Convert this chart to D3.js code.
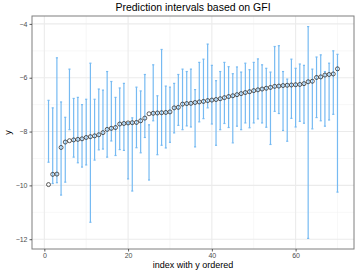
<!DOCTYPE html>
<html>
<head>
<meta charset="utf-8">
<script src="https://cdn.jsdelivr.net/npm/d3@7"></script>
<style>
  html, body { margin: 0; padding: 0; background: #fff; }
  svg { display: block; }
  text { font-family: "Liberation Sans", Arial, sans-serif; }
</style>
</head>
<body>
<svg id="chart" width="358" height="275"></svg>
<script>
const index = [1,2,3,4,5,6,7,8,9,10,11,12,13,14,15,16,17,18,19,20,
  21,22,23,24,25,26,27,28,29,30,31,32,33,34,35,36,37,38,39,40,
  41,42,43,44,45,46,47,48,49,50,51,52,53,54,55,56,57,58,59,60,
  61,62,63,64,65,66,67,68,69,70];
const yObs = [-9.97,-9.59,-9.58,-8.59,-8.39,-8.34,-8.31,-8.29,-8.27,-8.22,
  -8.19,-8.16,-8.12,-8.04,-7.92,-7.88,-7.85,-7.72,-7.70,-7.68,
  -7.67,-7.66,-7.60,-7.50,-7.34,-7.32,-7.31,-7.30,-7.29,-7.27,
  -7.12,-7.10,-6.98,-6.96,-6.95,-6.92,-6.90,-6.88,-6.85,-6.83,
  -6.81,-6.78,-6.74,-6.70,-6.67,-6.63,-6.59,-6.55,-6.52,-6.48,
  -6.45,-6.42,-6.39,-6.36,-6.32,-6.31,-6.29,-6.28,-6.27,-6.26,
  -6.25,-6.22,-6.15,-6.13,-5.99,-5.97,-5.90,-5.88,-5.86,-5.67];
const lower = [-9.14,-9.93,-9.90,-10.36,-9.88,-7.93,-8.95,-9.16,-9.32,-9.24,
  -11.37,-9.06,-8.68,-8.65,-8.95,-8.35,-8.89,-8.67,-8.70,-9.76,
  -10.21,-8.60,-8.79,-8.22,-9.80,-7.60,-8.86,-8.51,-8.61,-8.40,
  -8.05,-7.77,-7.93,-7.79,-7.83,-8.57,-7.64,-7.52,-7.12,-7.72,
  -8.51,-7.93,-7.70,-7.85,-8.42,-7.80,-7.93,-7.68,-7.86,-7.68,
  -7.53,-7.68,-7.84,-8.48,-7.25,-7.33,-7.96,-8.36,-7.51,-7.83,
  -7.62,-7.69,-11.97,-7.90,-7.48,-7.60,-7.80,-7.57,-7.36,-10.25];
const upper = [-6.84,-7.12,-5.26,-6.90,-7.47,-5.68,-6.77,-6.73,-7.00,-6.80,
  -5.46,-6.80,-6.42,-6.46,-5.77,-6.14,-6.73,-6.38,-6.21,-7.67,
  -7.49,-6.35,-6.49,-5.88,-7.75,-5.52,-6.67,-4.95,-6.31,-6.35,
  -6.21,-5.88,-5.68,-5.77,-5.68,-6.44,-5.43,-5.31,-4.75,-5.54,
  -6.11,-5.77,-5.43,-5.59,-5.85,-5.60,-5.79,-5.46,-5.70,-5.43,
  -5.30,-5.52,-5.65,-5.79,-4.84,-4.81,-5.77,-6.05,-5.31,-5.65,
  -5.49,-5.54,-4.10,-5.68,-5.23,-5.15,-5.77,-5.46,-5.00,-5.13];
const xTicks = [0, 20, 40, 60];
const xMinor = [10, 30, 50, 70];
const yTicks = [-12, -10, -8, -6, -4];
const yMinor = [-11, -9, -7, -5];
const title = "Prediction intervals based on GFI";
const xTitle = "index with y ordered";
const yTitle = "y";

const svg = d3.select("#chart");
const W = 358, H = 275;
const m = { left: 32, right: 4, top: 16, bottom: 26 };
const pw = W - m.left - m.right, ph = H - m.top - m.bottom;

const half = 0.45;
const xlo = d3.min(index) - half, xhi = d3.max(index) + half;
const xpad = (xhi - xlo) * 0.05;
const x = d3.scaleLinear().domain([xlo - xpad, xhi + xpad]).range([m.left, m.left + pw]);
const ylo = Math.min(d3.min(lower), d3.min(yObs)), yhi = Math.max(d3.max(upper), d3.max(yObs));
const ypad = (yhi - ylo) * 0.05;
const y = d3.scaleLinear().domain([ylo - ypad, yhi + ypad]).range([m.top + ph, m.top]);

const g = svg.append("g");
// grid
g.selectAll(".gxm").data(xMinor).join("line")
  .attr("x1", d => x(d)).attr("x2", d => x(d)).attr("y1", m.top).attr("y2", m.top + ph)
  .attr("stroke", "#f2f2f2").attr("stroke-width", 0.6);
g.selectAll(".gym").data(yMinor).join("line")
  .attr("y1", d => y(d)).attr("y2", d => y(d)).attr("x1", m.left).attr("x2", m.left + pw)
  .attr("stroke", "#f2f2f2").attr("stroke-width", 0.6);
g.selectAll(".gx").data(xTicks).join("line")
  .attr("x1", d => x(d)).attr("x2", d => x(d)).attr("y1", m.top).attr("y2", m.top + ph)
  .attr("stroke", "#ebebeb").attr("stroke-width", 1.1);
g.selectAll(".gy").data(yTicks).join("line")
  .attr("y1", d => y(d)).attr("y2", d => y(d)).attr("x1", m.left).attr("x2", m.left + pw)
  .attr("stroke", "#ebebeb").attr("stroke-width", 1.1);

const data = index.map((d, i) => ({ i: d, y: yObs[i], lo: lower[i], hi: upper[i] }));
const barColor = "#76baf2";
const eb = g.append("g");
eb.selectAll(".v").data(data).join("line")
  .attr("x1", d => x(d.i)).attr("x2", d => x(d.i))
  .attr("y1", d => y(d.lo)).attr("y2", d => y(d.hi))
  .attr("stroke", barColor).attr("stroke-width", 1.2);
eb.selectAll(".ct").data(data).join("line")
  .attr("x1", d => x(d.i - 0.25)).attr("x2", d => x(d.i + 0.25))
  .attr("y1", d => y(d.hi)).attr("y2", d => y(d.hi))
  .attr("stroke", barColor).attr("stroke-width", 1.2);
eb.selectAll(".cb").data(data).join("line")
  .attr("x1", d => x(d.i - 0.25)).attr("x2", d => x(d.i + 0.25))
  .attr("y1", d => y(d.lo)).attr("y2", d => y(d.lo))
  .attr("stroke", barColor).attr("stroke-width", 1.2);

g.append("g").selectAll("circle").data(data).join("circle")
  .attr("cx", d => x(d.i)).attr("cy", d => y(d.y)).attr("r", 2)
  .attr("fill", "none").attr("stroke", "#1a1a1a").attr("stroke-width", 0.7);

// border
g.append("rect").attr("x", m.left).attr("y", m.top).attr("width", pw).attr("height", ph)
  .attr("fill", "none").attr("stroke", "#7f7f7f").attr("stroke-width", 1);

// axes
const xAxis = d3.axisBottom(x).tickValues(xTicks).tickSize(2.5).tickPadding(2)
  .tickFormat(d => d3.format("d")(d).replace("-", "\u2212"));
const xa = svg.append("g").attr("transform", `translate(0,${m.top + ph})`).call(xAxis);
const yAxis = d3.axisLeft(y).tickValues(yTicks).tickSize(2.5).tickPadding(2)
  .tickFormat(d => d3.format("d")(d).replace("-", "\u2212"));
const ya = svg.append("g").attr("transform", `translate(${m.left},0)`).call(yAxis);
[xa, ya].forEach(a => {
  a.select(".domain").remove();
  a.selectAll(".tick line").attr("stroke", "#333").attr("stroke-width", 0.8);
  a.selectAll(".tick text").attr("fill", "#4d4d4d").attr("font-size", 7)
    .attr("font-family", "'Liberation Sans', Arial, sans-serif");
});

svg.append("text").attr("x", m.left + pw / 2).attr("y", 10.5).attr("text-anchor", "middle")
  .attr("font-size", 10.5).attr("fill", "#000").text(title);
svg.append("text").attr("x", m.left + pw / 2).attr("y", 268).attr("text-anchor", "middle")
  .attr("font-size", 9).attr("fill", "#000").text(xTitle);
svg.append("text").attr("transform", `translate(10.5,${m.top + ph / 2}) rotate(-90)`)
  .attr("text-anchor", "middle").attr("font-size", 9).attr("fill", "#000").text(yTitle);
</script>
</body>
</html>
